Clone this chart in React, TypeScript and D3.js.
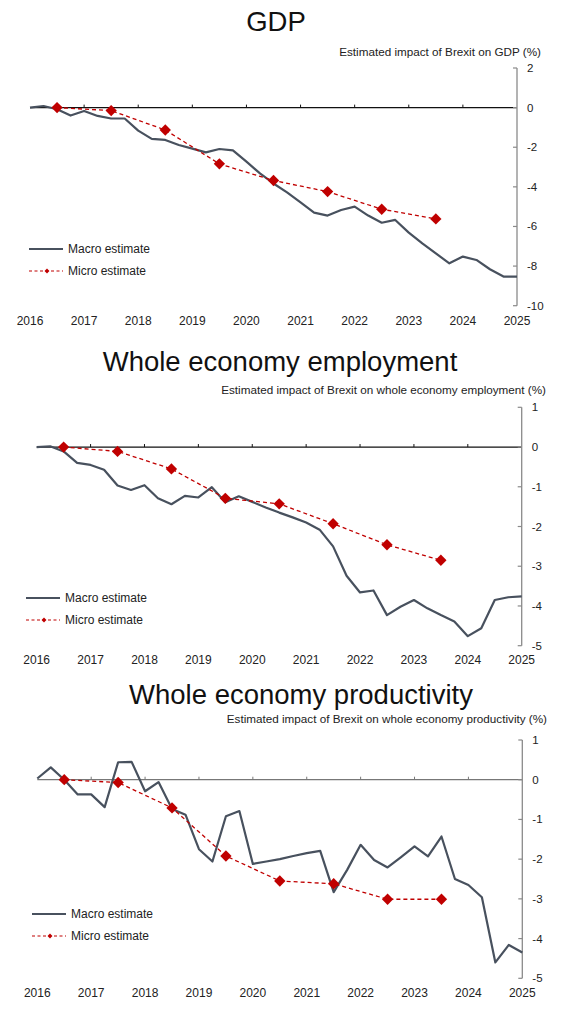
import * as React from "react";
import * as d3 from "d3";

// quarterly macro estimates, 2016Q1 .. 2025Q1
const quarters = d3.range(37).map((i) => 2016 + i / 4);
const microYears = [2016.5, 2017.5, 2018.5, 2019.5, 2020.5, 2021.5, 2022.5, 2023.5];
const yearTicks = [2016, 2017, 2018, 2019, 2020, 2021, 2022, 2023, 2024, 2025];

const gdpMacro = [
  0, 0.08, -0.08, -0.4, -0.17, -0.42, -0.55, -0.55, -1.16, -1.58, -1.63, -1.89,
  -2.07, -2.26, -2.09, -2.16, -2.73, -3.32, -3.83, -4.28, -4.78, -5.3, -5.45,
  -5.17, -5.0, -5.45, -5.81, -5.67, -6.31, -6.85, -7.36, -7.86, -7.52, -7.69,
  -8.16, -8.53, -8.53,
];
const gdpMicro = [0, -0.15, -1.13, -2.84, -3.68, -4.24, -5.13, -5.62];

const empMacro = [
  0, 0.02, -0.11, -0.4, -0.45, -0.57, -0.97, -1.08, -0.96, -1.29, -1.44, -1.23,
  -1.27, -1.01, -1.39, -1.24, -1.38, -1.52, -1.65, -1.77, -1.9, -2.08, -2.5,
  -3.24, -3.66, -3.61, -4.23, -4.02, -3.85, -4.06, -4.23, -4.39, -4.76, -4.56,
  -3.85, -3.78, -3.76,
];
const empMicro = [0, -0.11, -0.55, -1.29, -1.43, -1.93, -2.46, -2.85];

const prodMacro = [
  0.03, 0.31, 0, -0.37, -0.37, -0.69, 0.44, 0.45, -0.29, -0.06, -0.74, -0.88,
  -1.75, -2.06, -0.92, -0.79, -2.12, -2.06, -2.0, -1.92, -1.85, -1.79, -2.83,
  -2.27, -1.64, -2.02, -2.21, -1.95, -1.68, -1.93, -1.43, -2.5, -2.65, -2.96,
  -4.6, -4.16, -4.35,
];
const prodMicro = [0, -0.07, -0.71, -1.92, -2.55, -2.62, -3.01, -3.01];

const gdpTicks = [2, 0, -2, -4, -6, -8, -10];
const smallTicks = [1, 0, -1, -2, -3, -4, -5];

const FONT = "'Liberation Sans', Arial, sans-serif";
const MACRO = "#48515e";
const MICRO = "#c00000";

interface PanelProps {
  title: string;
  subtitle: string;
  macro: number[];
  micro: number[];
  ticks: number[];
  x0: number;
  x1: number;
  yTop: number;
  yBot: number;
  titleX: number;
  titleY: number;
  subX: number;
  subY: number;
  labelY: number;
  legX: number;
  legY: number;
  zeroColor: string;
}

const Panel = (p: PanelProps) => {
  const x = d3.scaleLinear().domain([2016, 2025]).range([p.x0, p.x1]);
  const y = d3
    .scaleLinear()
    .domain([p.ticks[0], p.ticks[p.ticks.length - 1]])
    .range([p.yTop, p.yBot]);

  const macroLine = d3
    .line<number>()
    .x((d, i) => x(quarters[i]))
    .y((d) => y(d));
  const microLine = d3
    .line<number>()
    .x((d, i) => x(microYears[i]))
    .y((d) => y(d));

  const diamond = d3.symbol().type(d3.symbolSquare).size(64)();
  const smallDiamond = d3.symbol().type(d3.symbolSquare).size(12)();

  return (
    <g>
      <text x={p.titleX} y={p.titleY} textAnchor="middle" fontSize={27.5} fill="#111">
        {p.title}
      </text>
      <text x={p.subX} y={p.subY} textAnchor="end" fontSize={11.7} fill="#222">
        {p.subtitle}
      </text>

      {/* zero line with year ticks */}
      <line x1={p.x0} x2={p.x1} y1={y(0)} y2={y(0)} stroke={p.zeroColor} strokeWidth={1.3} />
      {yearTicks.slice(1, -1).map((t) => (
        <line key={t} x1={x(t)} x2={x(t)} y1={y(0)} y2={y(0) - 3} stroke={p.zeroColor} strokeWidth={1} />
      ))}

      {/* right value axis */}
      <line x1={p.x1} x2={p.x1} y1={p.yTop} y2={p.yBot} stroke="#8a8a8a" strokeWidth={1.3} />
      {p.ticks.map((t) => (
        <g key={t}>
          <line x1={p.x1 - 4} x2={p.x1} y1={y(t)} y2={y(t)} stroke="#8a8a8a" strokeWidth={1.2} />
          <text x={p.x1 + 10} y={y(t) + 4} fontSize={11.5} fill="#222">
            {t}
          </text>
        </g>
      ))}

      {yearTicks.map((t) => (
        <text key={t} x={x(t)} y={p.labelY} textAnchor="middle" fontSize={12} fill="#222">
          {t}
        </text>
      ))}

      <path d={macroLine(p.macro) || ""} fill="none" stroke={MACRO} strokeWidth={2.2} strokeLinejoin="round" />
      <path d={microLine(p.micro) || ""} fill="none" stroke={MICRO} strokeWidth={1.3} strokeDasharray="4,3" />
      {p.micro.map((d, i) => (
        <path
          key={i}
          d={diamond || ""}
          transform={`translate(${x(microYears[i])},${y(d)}) rotate(45)`}
          fill={MICRO}
        />
      ))}

      {/* legend */}
      <line x1={p.legX} x2={p.legX + 34} y1={p.legY} y2={p.legY} stroke={MACRO} strokeWidth={2.2} />
      <text x={p.legX + 39} y={p.legY + 4} fontSize={12} fill="#222">
        Macro estimate
      </text>
      <line
        x1={p.legX}
        x2={p.legX + 34}
        y1={p.legY + 22}
        y2={p.legY + 22}
        stroke={MICRO}
        strokeWidth={1.2}
        strokeDasharray="3,2.5"
      />
      <path d={smallDiamond || ""} transform={`translate(${p.legX + 18},${p.legY + 22}) rotate(45)`} fill={MICRO} />
      <text x={p.legX + 39} y={p.legY + 26} fontSize={12} fill="#222">
        Micro estimate
      </text>
    </g>
  );
};

export default function App() {
  return (
    <svg
      width={570}
      height={1024}
      style={{ position: "absolute", left: 0, top: 0, background: "#fff", fontFamily: FONT }}
    >
      <Panel
        title="GDP"
        subtitle="Estimated impact of Brexit on GDP (%)"
        macro={gdpMacro}
        micro={gdpMicro}
        ticks={gdpTicks}
        x0={30}
        x1={517}
        yTop={68}
        yBot={305.7}
        titleX={276}
        titleY={31}
        subX={541}
        subY={56}
        labelY={325}
        legX={29}
        legY={249}
        zeroColor="#111"
      />
      <Panel
        title="Whole economy employment"
        subtitle="Estimated impact of Brexit on whole economy employment (%)"
        macro={empMacro}
        micro={empMicro}
        ticks={smallTicks}
        x0={36.7}
        x1={521.7}
        yTop={407.3}
        yBot={645.7}
        titleX={280}
        titleY={371}
        subX={546}
        subY={394}
        labelY={664}
        legX={26}
        legY={598}
        zeroColor="#111"
      />
      <Panel
        title="Whole economy productivity"
        subtitle="Estimated impact of Brexit on whole economy productivity (%)"
        macro={prodMacro}
        micro={prodMicro}
        ticks={smallTicks}
        x0={37.3}
        x1={522.3}
        yTop={740}
        yBot={978.3}
        titleX={301}
        titleY={704}
        subX={547}
        subY={723}
        labelY={997}
        legX={32}
        legY={914}
        zeroColor="#777"
      />
    </svg>
  );
}
